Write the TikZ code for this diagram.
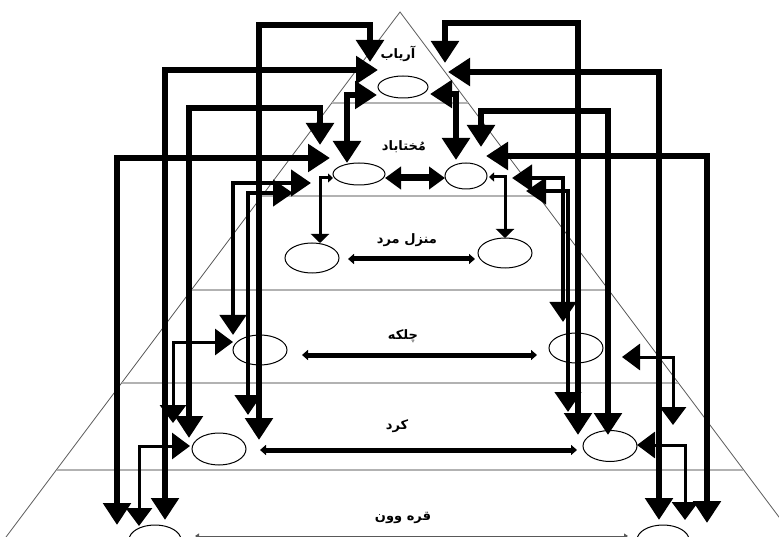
\documentclass[tikz,border=0pt]{standalone}
\usepackage{fontspec}
\newfontfamily\arabicfont[Script=Arabic]{DejaVu Sans}
\TeXXeTstate=1
\usetikzlibrary{arrows.meta,shapes.geometric}
\begin{document}
\begin{tikzpicture}[x=1pt,y=-1pt,
  layerline/.style={gray!60,line width=1.3pt},
  pyredge/.style={gray!70!black,line width=0.8pt},
  oval/.style={ellipse,draw,line width=1pt,inner sep=0pt},
  lbl/.style={font={\arabicfont\bfseries\fontsize{13}{15}\selectfont},inner sep=0pt},
  bigarr/.style={line width=6pt,<->,>={Triangle[length=22pt,width=27pt]}},
  midarr/.style={line width=4.5pt,<->,>={Triangle[length=20pt,width=26pt]}},
  thinarr/.style={line width=3pt,<->,>={Triangle[length=18pt,width=26pt]}},
  smallarr/.style={line width=3pt,{Triangle[length=5pt,width=9pt]}-{Triangle[length=9pt,width=18pt]}},
  horarr/.style={line width=5pt,<->,>={Triangle[length=6pt,width=10pt]}},
]
\useasboundingbox (0,0) rectangle (779,537);
\clip (0,0) rectangle (779,537);

% pyramid
\draw[pyredge] (6,537) -- (400,12) -- (794,537);
\draw[layerline] (332,103) -- (468,103);
\draw[layerline] (262,196) -- (538,196);
\draw[layerline] (192,290) -- (608,290);
\draw[layerline] (122,383) -- (678,383);
\draw[layerline] (57,470) -- (743,470);

% ovals
\node[oval,minimum width=50pt,minimum height=22pt] (e1) at (403,87) {};
\node[oval,minimum width=52pt,minimum height=22pt] (e2l) at (359,174) {};
\node[oval,minimum width=42pt,minimum height=26pt] (e2r) at (466,176) {};
\node[oval,minimum width=54pt,minimum height=30pt] (e3l) at (312,258) {};
\node[oval,minimum width=54pt,minimum height=30pt] (e3r) at (505,253) {};
\node[oval,minimum width=54pt,minimum height=30pt] (e4l) at (260,350) {};
\node[oval,minimum width=54pt,minimum height=30pt] (e4r) at (576,348) {};
\node[oval,minimum width=54pt,minimum height=32pt] (e5l) at (219,449) {};
\node[oval,minimum width=54pt,minimum height=31pt] (e5r) at (610,446) {};
\node[oval,minimum width=52pt,minimum height=30pt] (e6l) at (155,540) {};
\node[oval,minimum width=52pt,minimum height=30pt] (e6r) at (663,540) {};

% labels
\node[lbl] (t1) at (398,54) {\beginR آریاب\endR};
\node[lbl] (t2) at (404,147) {\beginR مُختاباد\endR};
\node[lbl] (t3) at (407,240) {\beginR منزل مرد\endR};
\node[lbl] (t4) at (403,336) {\beginR چلکه\endR};
\node[lbl] (t5) at (397,426) {\beginR کرد\endR};
\node[lbl] (t6) at (403,518) {\beginR قره وون\endR};

% level arrows
\draw[line width=7pt,<->,>={Triangle[length=16pt,width=22pt]}] (385,178) -- (445,178);
\draw[horarr] (348,259) -- (475,259);
\draw[horarr] (302,355) -- (537,355);
\draw[horarr] (260,450) -- (577,450);
\draw[line width=1pt,gray!70!black,<->,>={Triangle[length=4pt,width=5pt]}] (195,536) -- (628,536);

% left connectors
\draw[bigarr] (259,440) -- (259,25) -- (370,25) -- (370,62);
\draw[bigarr] (165,520) -- (165,70) -- (378,70);
\draw[bigarr] (189,438) -- (189,108) -- (320,108) -- (320,145);
\draw[bigarr] (117,525) -- (117,158) -- (330,158);
\draw[bigarr] (347,163) -- (347,95) -- (377,95);
\draw[midarr] (233,335) -- (233,183) -- (311,183);
\draw[midarr] (248,415) -- (248,193) -- (293,193);
\draw[thinarr] (233,342) -- (173,342) -- (173,423);
\draw[thinarr] (190,446) -- (139,446) -- (139,526);
\draw[smallarr] (333,178) -- (320,178) -- (320,243);

% right connectors
\draw[bigarr] (578,435) -- (578,23) -- (445,23) -- (445,63);
\draw[bigarr] (659,520) -- (659,72) -- (448,72);
\draw[bigarr] (608,435) -- (608,111) -- (481,111) -- (481,147);
\draw[bigarr] (707,523) -- (707,156) -- (486,156);
\draw[bigarr] (456,160) -- (456,94) -- (430,94);
\draw[midarr] (563,322) -- (563,178) -- (512,178);
\draw[midarr] (568,412) -- (568,191) -- (526,191);
\draw[thinarr] (622,357) -- (673,357) -- (673,425);
\draw[thinarr] (637,445) -- (685,445) -- (685,520);
\draw[smallarr] (489,177) -- (505,177) -- (505,238);
\end{tikzpicture}
\end{document}
